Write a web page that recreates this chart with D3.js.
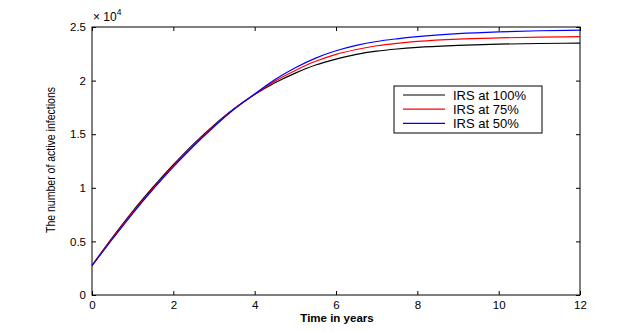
<!DOCTYPE html>
<html lang="en">
<head>
<meta charset="utf-8">
<title>Active infections</title>
<script src="https://cdn.jsdelivr.net/npm/d3@7"></script>
<style>
  body { margin: 0; background: #fff; }
  text { font-family: "Liberation Sans", Arial, sans-serif; }
  .axis path, .axis line { stroke: #000; }
</style>
</head>
<body>
<div id="chart"></div>
<script>
// time points (years)
var years = [0, 0.5, 1, 1.5, 2, 2.5, 3, 3.5, 4, 4.5, 5, 5.5, 6, 6.5, 7, 7.5, 8, 9, 10, 11, 12];

// active infections
var irs100 = [2750, 5350, 7800, 10050, 12150, 14100, 15850, 17400, 18700, 19800, 20700, 21450, 22000, 22450, 22750, 22950, 23100, 23280, 23400, 23460, 23500];
var irs75  = [2750, 5280, 7700, 9950, 12050, 14000, 15780, 17380, 18720, 19950, 20950, 21800, 22450, 22900, 23250, 23480, 23650, 23870, 23980, 24050, 24100];
var irs50  = [2750, 5200, 7600, 9850, 11950, 13900, 15700, 17350, 18750, 20100, 21200, 22100, 22780, 23280, 23650, 23900, 24100, 24380, 24550, 24650, 24700];

var seriesNames = ["IRS at 100%", "IRS at 75%", "IRS at 50%"];
var seriesColors = ["#000000", "#ff0000", "#0000ff"];

var xTicks = [0, 2, 4, 6, 8, 10, 12];
var yTicks = [0, 5000, 10000, 15000, 20000, 25000];
var yTickLabels = ["0", "0.5", "1", "1.5", "2", "2.5"];

var W = 621, H = 332;
var m = {left: 92, right: 41, top: 27, bottom: 37};
var w = W - m.left - m.right, h = H - m.top - m.bottom;

var svg = d3.select("#chart").append("svg")
  .attr("width", W).attr("height", H);

var x = d3.scaleLinear().domain([0, 12]).range([m.left, m.left + w]);
var y = d3.scaleLinear().domain([0, 25000]).range([m.top + h, m.top]);

// frame
svg.append("rect")
  .attr("x", m.left).attr("y", m.top).attr("width", w).attr("height", h)
  .attr("fill", "none").attr("stroke", "#000").attr("stroke-width", 1);

// axes with inward ticks
svg.append("g").attr("class", "axis")
  .attr("transform", "translate(0," + (m.top + h) + ")")
  .call(d3.axisBottom(x).tickValues(xTicks).tickSize(-4).tickPadding(6).tickFormat(d3.format("d")));
svg.append("g").attr("class", "axis")
  .attr("transform", "translate(0," + m.top + ")")
  .call(d3.axisTop(x).tickValues(xTicks).tickSize(-4).tickFormat(""));
svg.append("g").attr("class", "axis")
  .attr("transform", "translate(" + m.left + ",0)")
  .call(d3.axisLeft(y).tickValues(yTicks).tickSize(-4).tickPadding(6)
    .tickFormat(function(d, i) { return yTickLabels[i]; }));
svg.append("g").attr("class", "axis")
  .attr("transform", "translate(" + (m.left + w) + ",0)")
  .call(d3.axisRight(y).tickValues(yTicks).tickSize(-4).tickFormat(""));

svg.selectAll(".axis .domain").remove();
svg.selectAll(".axis text").attr("font-size", 11.5).attr("fill", "#000")
  .style("font-family", "Liberation Sans, Arial, sans-serif");

// exponent label
var ex = svg.append("text").attr("x", m.left + 1).attr("y", 21).attr("font-size", 12);
ex.append("tspan").text("\u00d7 10");
ex.append("tspan").attr("dy", -6).attr("font-size", 8.5).text("4");

// axis titles
svg.append("text")
  .attr("x", m.left + w / 2 + 1).attr("y", 322)
  .attr("text-anchor", "middle").attr("font-size", 11.5).attr("font-weight", "bold")
  .text("Time in years");

svg.append("text")
  .attr("transform", "translate(55,160) rotate(-90)")
  .attr("text-anchor", "middle").attr("font-size", 12.5)
  .attr("textLength", 146).attr("lengthAdjust", "spacingAndGlyphs")
  .text("The number of active infections");

// curves
var line = d3.line()
  .x(function(d) { return x(d[0]); })
  .y(function(d) { return y(d[1]); })
  .curve(d3.curveMonotoneX);

[irs100, irs75, irs50].forEach(function(vals, i) {
  svg.append("path")
    .datum(years.map(function(t, j) { return [t, vals[j]]; }))
    .attr("d", line)
    .attr("fill", "none")
    .attr("stroke", seriesColors[i])
    .attr("stroke-width", 1.2);
});

// legend
var lg = svg.append("g").attr("transform", "translate(394,86)");
lg.append("rect").attr("width", 148).attr("height", 47)
  .attr("fill", "#fff").attr("stroke", "#000").attr("stroke-width", 1);
seriesNames.forEach(function(name, i) {
  var yy = 9 + i * 14.2;
  lg.append("line").attr("x1", 9).attr("x2", 51).attr("y1", yy).attr("y2", yy)
    .attr("stroke", seriesColors[i]).attr("stroke-width", 1.2);
  lg.append("text").attr("x", 59).attr("y", yy + 4.5).attr("font-size", 13)
    .text(name);
});
</script>
</body>
</html>
